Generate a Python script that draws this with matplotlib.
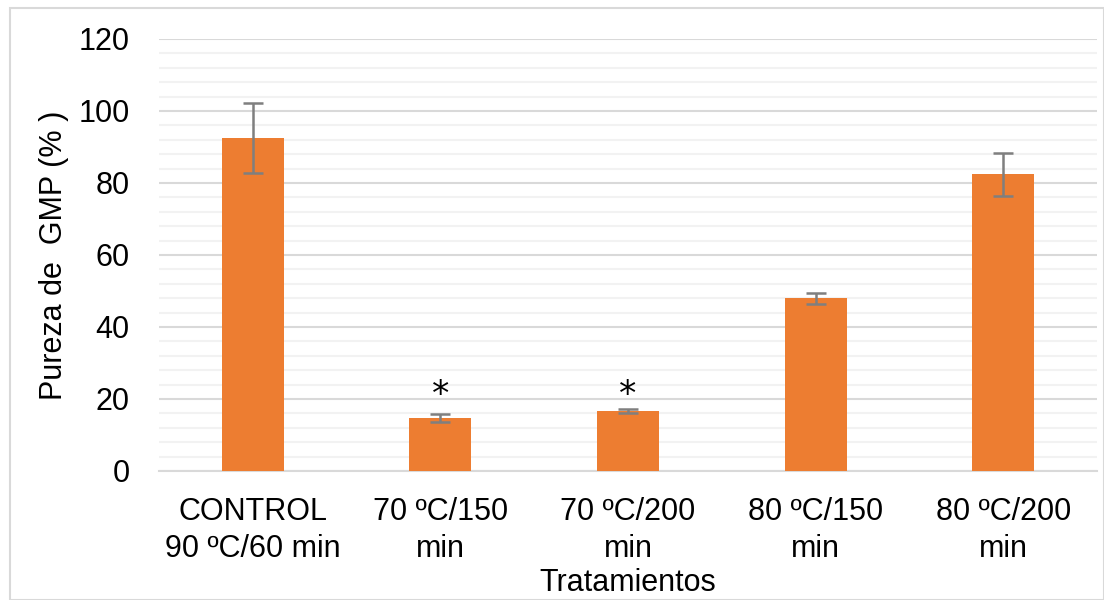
import matplotlib
matplotlib.use("Agg")
import matplotlib.pyplot as plt
from matplotlib.patches import Rectangle
from matplotlib.ticker import MultipleLocator

categories = ["CONTROL\n90 ºC/60 min", "70 ºC/150\nmin", "70 ºC/200\nmin", "80 ºC/150\nmin", "80 ºC/200\nmin"]
values = [92.5, 14.6, 16.7, 48.0, 82.4]
errors = [9.7, 1.1, 0.6, 1.5, 5.9]
marks = ["", "*", "*", "", ""]
mark_y = [0, 21, 21, 0, 0]

plt.rcParams['font.family'] = ['Liberation Sans', 'DejaVu Sans']
FS = 22

fig = plt.figure(figsize=(11.04, 6.0), dpi=100)
ax = fig.add_axes([159/1104, 1-471/600, (1097-159)/1104, (471-39)/600])

x = list(range(len(categories)))
ax.bar(x, values, width=0.33, color="#ED7D31", zorder=3)
ax.errorbar(x, values, yerr=errors, fmt="none", ecolor="#7F7F7F", elinewidth=1.8, capsize=7, capthick=1.8, zorder=4)
for xi, m, my in zip(x, marks, mark_y):
    if m:
        ax.text(xi, my, m, ha="center", va="center", fontsize=25, color="black", family="DejaVu Sans")

ax.set_xlim(-0.5, len(categories) - 0.5)
ax.set_ylim(0, 120)
ax.yaxis.set_major_locator(MultipleLocator(20))
ax.yaxis.set_minor_locator(MultipleLocator(4))
ax.grid(axis="y", which="major", color="#D9D9D9", linewidth=1.5, zorder=0)
ax.grid(axis="y", which="minor", color="#F2F2F2", linewidth=1.5, zorder=0)
for s in ["left", "right", "top"]:
    ax.spines[s].set_visible(False)
ax.spines["bottom"].set_color("#D9D9D9")
ax.spines["bottom"].set_linewidth(1.5)
ax.tick_params(axis="both", which="both", length=0, labelsize=FS, colors="black")
ax.tick_params(axis="y", pad=21)
ax.tick_params(axis="x", pad=19)
ax.set_xticks(x)
ax.set_xticklabels(categories, linespacing=1.3)
ax.set_ylabel("Pureza de  GMP (% )", fontsize=FS, labelpad=7)
ax.set_xlabel("Tratamientos", fontsize=FS, labelpad=3)

fig.patches.append(Rectangle((10/1104, 0), 1 - 10/1104 - 0.5/1104, 1 - 8/600, transform=fig.transFigure,
                             fill=False, edgecolor="#D9D9D9", linewidth=1.5))

fig.savefig("out.png", dpi=100)
